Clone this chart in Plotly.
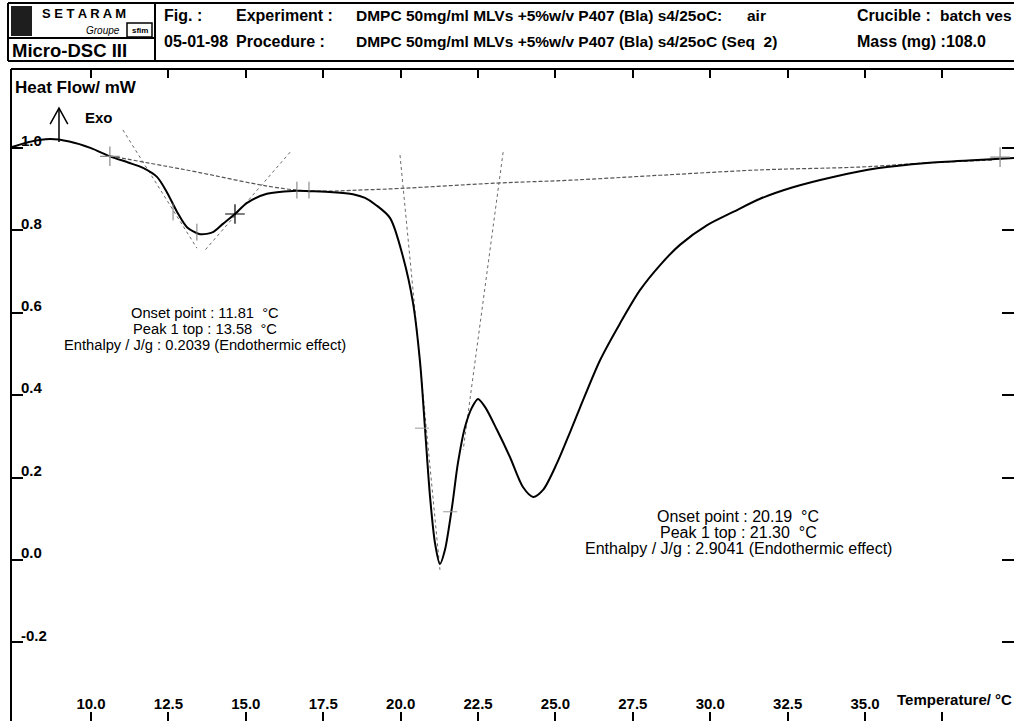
import plotly.graph_objects as go

# ---- DSC thermogram (heat flow vs temperature) ----
temperature_c = [7.42, 8.0, 8.68, 9.3, 10.0, 10.61, 11.2, 11.68, 12.13, 12.45, 12.78,
                 13.10, 13.52, 13.94, 14.26, 14.65, 15.04, 15.68, 16.52, 17.2, 17.82,
                 18.46, 18.85, 19.2, 19.66, 20.08, 20.40, 20.63, 20.79, 20.95, 21.11,
                 21.27, 21.43, 21.66, 21.85, 22.08, 22.31, 22.50, 22.73, 23.11, 23.53,
                 23.95, 24.28, 24.60, 25.05, 25.47, 25.80, 26.44, 27.09, 27.73, 28.38,
                 29.02, 29.90, 30.74, 31.61, 32.67, 33.97, 35.39, 37.0, 38.62, 39.81]
heat_flow_mw = [1.002, 1.015, 1.022, 1.016, 1.000, 0.980, 0.965, 0.952, 0.930, 0.893, 0.845,
                0.808, 0.791, 0.796, 0.816, 0.840, 0.867, 0.889, 0.896, 0.895, 0.893,
                0.888, 0.879, 0.862, 0.830, 0.735, 0.624, 0.478, 0.316, 0.153, 0.041,
                -0.01, 0.024, 0.129, 0.235, 0.323, 0.371, 0.391, 0.371, 0.316, 0.250,
                0.177, 0.153, 0.170, 0.235, 0.310, 0.371, 0.485, 0.575, 0.655, 0.716,
                0.765, 0.813, 0.845, 0.877, 0.905, 0.930, 0.951, 0.964, 0.971, 0.976]

# interpolated baseline under both transitions
baseline_t = [10.61, 13.0, 16.65, 19.0, 23.11, 25.47, 28.38, 31.61, 34.84, 37.0, 39.13]
baseline_v = [0.981, 0.948, 0.898, 0.899, 0.915, 0.922, 0.934, 0.947, 0.954, 0.964, 0.971]

# flank tangents used for onset construction
tangent1_left_t, tangent1_left_v = [11.03, 13.42], [1.044, 0.757]
tangent1_right_t, tangent1_right_v = [16.43, 13.68], [0.990, 0.752]
tangent2_left_t, tangent2_left_v = [19.98, 21.27], [0.983, -0.024]
tangent2_right_t, tangent2_right_v = [23.31, 22.02], [0.990, 0.267]

# integration limit marks on the curve
limit_t = [12.65, 13.42, 16.65, 17.04]
limit_v = [0.845, 0.796, 0.898, 0.898]
dash_t = [20.69, 21.60]
dash_v = [0.320, 0.117]
cross_t = [10.61, 14.65, 39.36]
cross_v = [0.980, 0.840, 0.978]

x_ticks = [10.0, 12.5, 15.0, 17.5, 20.0, 22.5, 25.0, 27.5, 30.0, 32.5, 35.0, 37.5]
x_tick_text = ["10.0", "12.5", "15.0", "17.5", "20.0", "22.5", "25.0", "27.5",
               "30.0", "32.5", "35.0", ""]
y_ticks = [-0.2, 0.0, 0.2, 0.4, 0.6, 0.8, 1.0]
y_tick_text = ["-0.2", "0.0", "0.2", "0.4", "0.6", "0.8", "1.0"]

peak1_text = ["Onset point : 11.81  °C", "Peak 1 top : 13.58  °C",
              "Enthalpy / J/g : 0.2039 (Endothermic effect)"]
peak2_text = ["Onset point : 20.19  °C", "Peak 1 top : 21.30  °C",
              "Enthalpy / J/g : 2.9041 (Endothermic effect)"]

FONT = "Liberation Sans, Arial, sans-serif"
W, H = 1014, 721
ML, MT = 11, 69

def px(x):
    return (x - ML) / (W - ML)

def py(y):
    return (H - y) / (H - MT)

fig = go.Figure()

guide = dict(color="#6a6a6a", width=1, dash="dot")
fig.add_trace(go.Scatter(x=baseline_t, y=baseline_v, mode="lines", line_shape="spline",
                         line=dict(color="#555555", width=1.2, dash="4px,2px")))
for tx, ty in [(tangent1_left_t, tangent1_left_v), (tangent1_right_t, tangent1_right_v),
               (tangent2_left_t, tangent2_left_v), (tangent2_right_t, tangent2_right_v)]:
    fig.add_trace(go.Scatter(x=tx, y=ty, mode="lines", line=guide))

fig.add_trace(go.Scatter(x=temperature_c, y=heat_flow_mw, mode="lines",
                         line=dict(color="black", width=2, shape="spline", smoothing=0.8)))

fig.add_trace(go.Scatter(x=limit_t, y=limit_v, mode="markers",
                         marker=dict(symbol="line-ns", size=12,
                                     line=dict(color="#777777", width=1))))
fig.add_trace(go.Scatter(x=dash_t, y=dash_v, mode="markers",
                         marker=dict(symbol="line-ew", size=10,
                                     line=dict(color="#999999", width=1))))
fig.add_trace(go.Scatter(x=cross_t, y=cross_v, mode="markers",
                         marker=dict(symbol="cross-thin", size=14,
                                     line=dict(color=["#888888", "black", "#888888"], width=1.2))))

shapes = []
# plot frame (left and top edges)
shapes.append(dict(type="line", xref="paper", yref="paper", x0=0, x1=0, y0=0, y1=1,
                   line=dict(color="black", width=2)))
shapes.append(dict(type="line", xref="paper", yref="paper", x0=0, x1=1, y0=1, y1=1,
                   line=dict(color="black", width=2)))
# Exo arrow
arrow_x, arrow_lo, arrow_hi = 8.966, 1.015, 1.097
shapes.append(dict(type="line", x0=arrow_x, x1=arrow_x, y0=arrow_lo, y1=arrow_hi,
                   line=dict(color="black", width=1.5)))
shapes.append(dict(type="path", path=f"M 8.68,1.058 L {arrow_x},{arrow_hi} L 9.25,1.058",
                   line=dict(color="black", width=1.5)))

# header table
hdr = dict(color="black", width=2)
shapes += [
    dict(type="line", xref="paper", yref="paper", x0=px(8), x1=px(1014), y0=py(3), y1=py(3), line=hdr),
    dict(type="line", xref="paper", yref="paper", x0=px(8), x1=px(1014), y0=py(61), y1=py(61), line=hdr),
    dict(type="line", xref="paper", yref="paper", x0=px(8), x1=px(8), y0=py(3), y1=py(61), line=hdr),
    dict(type="line", xref="paper", yref="paper", x0=px(155), x1=px(155), y0=py(3), y1=py(61), line=hdr),
    dict(type="line", xref="paper", yref="paper", x0=px(8), x1=px(155), y0=py(38), y1=py(38), line=hdr),
    dict(type="rect", xref="paper", yref="paper", x0=px(11), x1=px(32), y0=py(36), y1=py(6),
         fillcolor="#1e1e1e", line=dict(width=0)),
    dict(type="rect", xref="paper", yref="paper", x0=px(127), x1=px(152), y0=py(37), y1=py(23),
         fillcolor="white", line=dict(color="black", width=1.5)),
]

annotations = []

def note(x, y, text, size=15, bold=True, xanchor="left", xref="paper", yref="paper",
         italic=False, color="black"):
    annotations.append(dict(x=x, y=y, xref=xref, yref=yref, text=text, showarrow=False,
                            xanchor=xanchor, yanchor="middle",
                            font=dict(family=FONT, size=size, color=color,
                                      weight="bold" if bold else "normal",
                                      style="italic" if italic else "normal")))

# header texts
note(px(40), py(13), "S E T A R A M", size=13)
note(px(84), py(30), "Groupe", size=10, bold=False, italic=True)
note(px(139.5), py(30), "sfim", size=8, xanchor="center")
note(px(10), py(50), "Micro-DSC III", size=18.5)
note(px(162), py(15), "Fig. :", size=16)
note(px(234), py(15), "Experiment :", size=16)
note(px(354), py(15), "DMPC 50mg/ml MLVs +5%w/v P407 (Bla) s4/25oC:", size=15.5)
note(px(745), py(15), "air", size=15.5)
note(px(855), py(15), "Crucible :", size=16)
note(px(1014), py(15), "batch ves", size=15.5, xanchor="right")
note(px(162), py(42), "05-01-98", size=16)
note(px(234), py(42), "Procedure :", size=16)
note(px(354), py(42), "DMPC 50mg/ml MLVs +5%w/v P407 (Bla) s4/25oC (Seq  2)", size=15.5)
note(px(855), py(42), "Mass (mg) :108.0", size=16)

# axis titles
note(0.002, 1.146, "Heat Flow/ mW", size=17, yref="y")
note(9.74, 1.075, "Exo", size=15, xref="x", yref="y")
note(1.0, -0.34, "Temperature/ °C", size=15, xanchor="right", yref="y")

# peak analysis results, one annotation per line
peak1_rows = [0.5995, 0.5607, 0.5218]
peak2_rows = [0.1044, 0.0655, 0.0267]
for txt, yv in zip(peak1_text, peak1_rows):
    note(13.68, yv, txt, size=14.7, bold=False, xanchor="center", xref="x", yref="y")
for txt, yv in zip(peak2_text, peak2_rows):
    note(30.9, yv, txt, size=16, bold=False, xanchor="center", xref="x", yref="y")

fig.update_layout(
    width=W, height=H,
    margin=dict(l=ML, r=0, t=MT, b=0, pad=0),
    paper_bgcolor="white", plot_bgcolor="white",
    showlegend=False,
    shapes=shapes, annotations=annotations,
    xaxis=dict(range=[7.416, 39.81], tickvals=x_ticks, ticktext=x_tick_text,
               ticks="inside", ticklen=9, tickwidth=1.5, tickcolor="black",
               mirror="ticks", showline=False, showgrid=False, zeroline=False,
               ticklabelposition="inside",
               tickfont=dict(family=FONT, size=15, color="black", weight="bold")),
    yaxis=dict(range=[-0.391, 1.192], tickvals=y_ticks, ticktext=y_tick_text,
               ticks="inside", ticklen=12, tickwidth=1.5, tickcolor="black",
               mirror="ticks", showline=False, showgrid=False, zeroline=False,
               ticklabelposition="inside", ticklabelshift=-7, ticklabelstandoff=-2,
               tickfont=dict(family=FONT, size=15, color="black", weight="bold")),
)

fig.write_html("out.html")
